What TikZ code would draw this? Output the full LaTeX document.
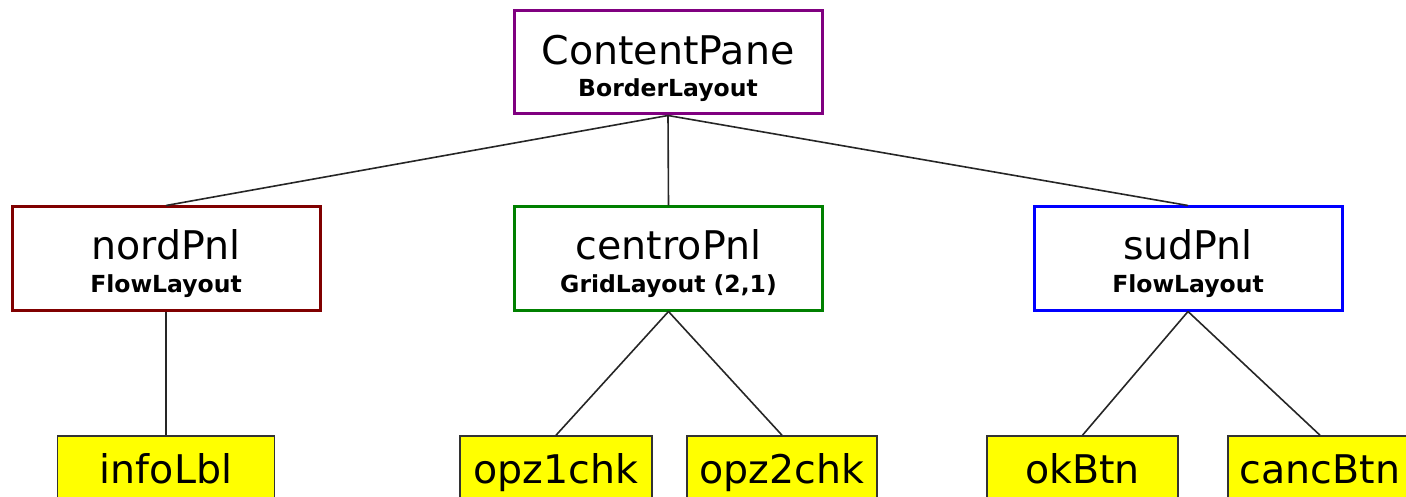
\documentclass[tikz,border=0pt]{standalone}
\usepackage{fontspec}
\setmainfont{DejaVu Sans}
\definecolor{cpcol}{HTML}{800080}
\definecolor{nordcol}{HTML}{800000}
\definecolor{centrocol}{HTML}{008000}
\definecolor{sudcol}{HTML}{0000FF}
\definecolor{leafcol}{HTML}{FFFF00}
\begin{document}
\begin{tikzpicture}[x=1pt,y=-1pt,
  panel/.style={draw, line width=3pt, fill=white, minimum width=308pt, minimum height=103pt, inner sep=0pt},
  leaf/.style={draw=black!80, line width=1.5pt, fill=leafcol, minimum height=73pt, inner sep=0pt,
     font=\fontsize{39.5}{40}\selectfont, text height=29pt, text depth=8pt},
  title/.style={anchor=base, inner sep=0pt, font=\fontsize{39.5}{40}\selectfont},
  sub/.style={anchor=base, inner sep=0pt, font=\fontsize{23.5}{24}\selectfont\bfseries},
  conn/.style={line width=1.6pt, black!85}]
\useasboundingbox (0,0) rectangle (1406,497);
\clip (0,0) rectangle (1406,497);
% panels
\node[panel, draw=cpcol] (cp) at (668,62.5) {};
\node[panel, draw=nordcol] (nord) at (166,258.5) {};
\node[panel, draw=centrocol] (centro) at (668.5,258.5) {};
\node[panel, draw=sudcol] (sud) at (1188,258.5) {};
% panel texts
\node[title] (cpT) at (668,65) {ContentPane};
\node[sub] (cpS) at (668,97) {BorderLayout};
\node[title] (nordT) at (166,259) {nordPnl};
\node[sub] (nordS) at (166,292) {FlowLayout};
\node[title] (centroT) at (668.5,259) {centroPnl};
\node[sub] (centroS) at (668.5,292) {GridLayout (2,1)};
\node[title] (sudT) at (1188,259) {sudPnl};
\node[sub] (sudS) at (1188,292) {FlowLayout};
% leaves
\node[leaf, minimum width=217pt] (info) at (166,472.5) {infoLbl};
\node[leaf, minimum width=192pt] (opz1) at (556,472.5) {opz1chk};
\node[leaf, minimum width=190pt] (opz2) at (782,472.5) {opz2chk};
\node[leaf, minimum width=191pt] (ok) at (1082.5,472.5) {okBtn};
\node[leaf, minimum width=184pt] (canc) at (1320,472.5) {cancBtn};
% connectors
\draw[conn] (cp.south) -- (nord.north);
\draw[conn] (cp.south) -- (centro.north);
\draw[conn] (cp.south) -- (sud.north);
\draw[conn] (nord.south) -- (info.north);
\draw[conn] (centro.south) -- (opz1.north);
\draw[conn] (centro.south) -- (opz2.north);
\draw[conn] (sud.south) -- (ok.north);
\draw[conn] (sud.south) -- (canc.north);
\end{tikzpicture}
\end{document}
